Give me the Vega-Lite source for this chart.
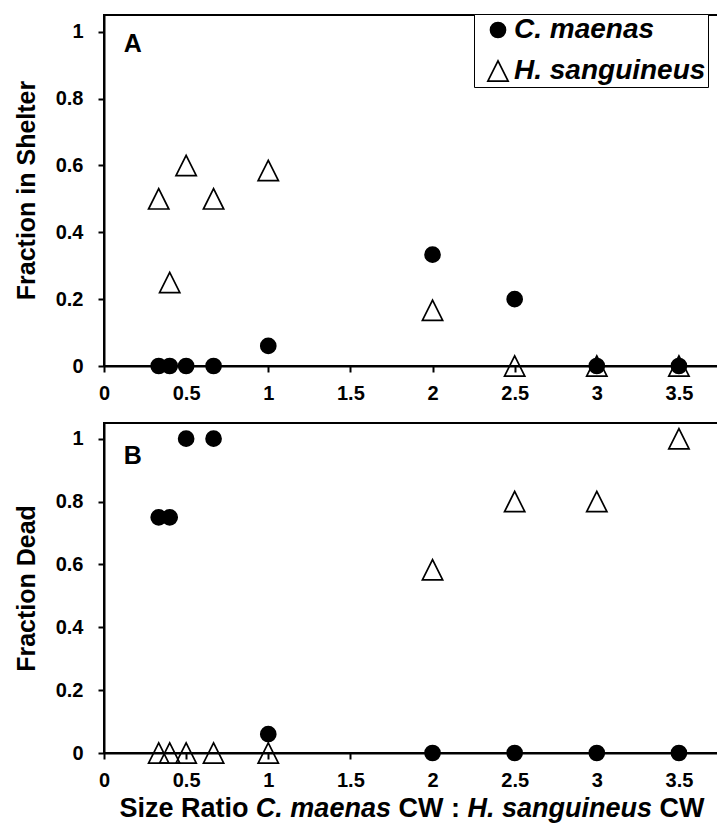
{
  "$schema": "https://vega.github.io/schema/vega-lite/v6.json",
  "padding": {"left": 13, "top": 13, "right": 0, "bottom": 0},
  "background": "white",
  "bounds": "flush",
  "spacing": 57,
  "config": {
    "font": "Liberation Sans",
    "view": {"stroke": "black", "strokeWidth": 2},
    "axis": {
      "grid": false,
      "domainColor": "black", "domainWidth": 2,
      "tickColor": "black", "tickWidth": 2, "tickSize": 6,
      "labelFont": "Liberation Sans", "labelFontSize": 20, "labelFontWeight": "bold", "labelColor": "black",
      "titleFont": "Liberation Sans", "titleFontSize": 25, "titleFontWeight": "bold", "titleColor": "black",
      "labelFlush": false, "labelOverlap": false
    },
    "legend": {"symbolStrokeColor": "black", "symbolStrokeWidth": 1.7},
    "text": {"font": "Liberation Sans", "fontWeight": "bold", "color": "black"}
  },
  "datasets": {
    "shelter": [
      {"ratio": 0.333, "fraction": 0.5, "species": "H. sanguineus"},
      {"ratio": 0.4, "fraction": 0.25, "species": "H. sanguineus"},
      {"ratio": 0.5, "fraction": 0.6, "species": "H. sanguineus"},
      {"ratio": 0.667, "fraction": 0.5, "species": "H. sanguineus"},
      {"ratio": 1, "fraction": 0.585, "species": "H. sanguineus"},
      {"ratio": 2, "fraction": 0.167, "species": "H. sanguineus"},
      {"ratio": 2.5, "fraction": 0, "species": "H. sanguineus"},
      {"ratio": 3, "fraction": 0, "species": "H. sanguineus"},
      {"ratio": 3.5, "fraction": 0, "species": "H. sanguineus"},
      {"ratio": 0.333, "fraction": 0, "species": "C. maenas"},
      {"ratio": 0.4, "fraction": 0, "species": "C. maenas"},
      {"ratio": 0.5, "fraction": 0, "species": "C. maenas"},
      {"ratio": 0.667, "fraction": 0, "species": "C. maenas"},
      {"ratio": 1, "fraction": 0.06, "species": "C. maenas"},
      {"ratio": 2, "fraction": 0.333, "species": "C. maenas"},
      {"ratio": 2.5, "fraction": 0.2, "species": "C. maenas"},
      {"ratio": 3, "fraction": 0, "species": "C. maenas"},
      {"ratio": 3.5, "fraction": 0, "species": "C. maenas"}
    ],
    "dead": [
      {"ratio": 0.333, "fraction": 0, "species": "H. sanguineus"},
      {"ratio": 0.4, "fraction": 0, "species": "H. sanguineus"},
      {"ratio": 0.5, "fraction": 0, "species": "H. sanguineus"},
      {"ratio": 0.667, "fraction": 0, "species": "H. sanguineus"},
      {"ratio": 1, "fraction": 0, "species": "H. sanguineus"},
      {"ratio": 2, "fraction": 0.583, "species": "H. sanguineus"},
      {"ratio": 2.5, "fraction": 0.8, "species": "H. sanguineus"},
      {"ratio": 3, "fraction": 0.8, "species": "H. sanguineus"},
      {"ratio": 3.5, "fraction": 1, "species": "H. sanguineus"},
      {"ratio": 0.333, "fraction": 0.75, "species": "C. maenas"},
      {"ratio": 0.4, "fraction": 0.75, "species": "C. maenas"},
      {"ratio": 0.5, "fraction": 1, "species": "C. maenas"},
      {"ratio": 0.667, "fraction": 1, "species": "C. maenas"},
      {"ratio": 1, "fraction": 0.06, "species": "C. maenas"},
      {"ratio": 2, "fraction": 0, "species": "C. maenas"},
      {"ratio": 2.5, "fraction": 0, "species": "C. maenas"},
      {"ratio": 3, "fraction": 0, "species": "C. maenas"},
      {"ratio": 3.5, "fraction": 0, "species": "C. maenas"}
    ]
  },
  "vconcat": [
    {
      "width": 616,
      "height": 351,
      "layer": [
        {
          "data": {"name": "shelter"},
          "mark": {"type": "point", "filled": true, "size": 225, "stroke": "black", "strokeWidth": 1.7, "opacity": 1},
          "encoding": {
            "x": {"field": "ratio", "type": "quantitative",
              "scale": {"domain": [0, 3.75], "nice": false, "zero": false},
              "axis": {"values": [0, 0.5, 1, 1.5, 2, 2.5, 3, 3.5], "format": "~g", "title": null, "labelPadding": 11}},
            "y": {"field": "fraction", "type": "quantitative",
              "scale": {"domain": [0, 1.05], "nice": false},
              "axis": {"values": [0, 0.2, 0.4, 0.6, 0.8, 1], "format": "~g", "title": "Fraction in Shelter",
                "labelPadding": 15, "titleX": -78, "titleY": 175, "titleAngle": 270, "titleAlign": "center", "titleBaseline": "middle"}},
            "shape": {"field": "species", "type": "nominal",
              "scale": {"domain": ["C. maenas", "H. sanguineus"], "range": ["circle", "M0,-1.353L1.353,1.353L-1.353,1.353Z"]},
              "legend": {"title": null, "orient": "none", "legendX": 370, "legendY": -1,
                "strokeColor": "black", "fillColor": "white", "padding": 2, "symbolOffset": 8,
                "labelFontSize": 28, "labelFontStyle": "italic", "labelFontWeight": "bold", "labelColor": "black", "labelLimit": 500,
                "labelOffset": 2, "rowPadding": 13, "symbolSize": 225, "symbolStrokeWidth": 1.7,
                "labelExpr": "datum.label + '\u2003\u2003'"}},
            "fill": {"field": "species", "type": "nominal",
              "scale": {"domain": ["C. maenas", "H. sanguineus"], "range": ["black", "transparent"]},
              "legend": {"title": null, "orient": "none", "legendX": 370, "legendY": -1,
                "strokeColor": "black", "fillColor": "white", "padding": 2, "symbolOffset": 8,
                "labelFontSize": 28, "labelFontStyle": "italic", "labelFontWeight": "bold", "labelColor": "black", "labelLimit": 500,
                "labelOffset": 2, "rowPadding": 13, "symbolSize": 225, "symbolStrokeWidth": 1.7,
                "labelExpr": "datum.label + '\u2003\u2003'"}},
            "stroke": {"field": "species", "type": "nominal",
              "scale": {"domain": ["C. maenas", "H. sanguineus"], "range": ["black", "black"]},
              "legend": {"title": null, "orient": "none", "legendX": 370, "legendY": -1,
                "strokeColor": "black", "fillColor": "white", "padding": 2, "symbolOffset": 8,
                "labelFontSize": 28, "labelFontStyle": "italic", "labelFontWeight": "bold", "labelColor": "black", "labelLimit": 500,
                "labelOffset": 2, "rowPadding": 13, "symbolSize": 225, "symbolStrokeWidth": 1.7,
                "labelExpr": "datum.label + '\u2003\u2003'"}}
          }
        },
        {
          "data": {"values": [{}]},
          "mark": {"type": "text", "fontSize": 25, "fontWeight": "bold", "align": "left", "baseline": "alphabetic"},
          "encoding": {"x": {"datum": 0.12}, "y": {"datum": 0.94}, "text": {"value": "A"}}
        }
      ]
    },
    {
      "width": 616,
      "height": 330,
      "layer": [
        {
          "data": {"name": "dead"},
          "mark": {"type": "point", "filled": true, "size": 225, "stroke": "black", "strokeWidth": 1.7, "opacity": 1},
          "encoding": {
            "x": {"field": "ratio", "type": "quantitative",
              "scale": {"domain": [0, 3.75], "nice": false, "zero": false},
              "axis": {"values": [0, 0.5, 1, 1.5, 2, 2.5, 3, 3.5], "format": "~g", "title": null, "labelPadding": 11}},
            "y": {"field": "fraction", "type": "quantitative",
              "scale": {"domain": [0, 1.05], "nice": false},
              "axis": {"values": [0, 0.2, 0.4, 0.6, 0.8, 1], "format": "~g", "title": "Fraction Dead",
                "labelPadding": 15, "titleX": -78, "titleY": 165, "titleAngle": 270, "titleAlign": "center", "titleBaseline": "middle"}},
            "shape": {"field": "species", "type": "nominal",
              "scale": {"domain": ["C. maenas", "H. sanguineus"], "range": ["circle", "M0,-1.353L1.353,1.353L-1.353,1.353Z"]},
              "legend": null},
            "fill": {"field": "species", "type": "nominal",
              "scale": {"domain": ["C. maenas", "H. sanguineus"], "range": ["black", "transparent"]},
              "legend": null},
            "stroke": {"field": "species", "type": "nominal",
              "scale": {"domain": ["C. maenas", "H. sanguineus"], "range": ["black", "black"]},
              "legend": null}
          }
        },
        {
          "data": {"values": [{}]},
          "mark": {"type": "text", "fontSize": 25, "fontWeight": "bold", "align": "left", "baseline": "alphabetic"},
          "encoding": {"x": {"datum": 0.12}, "y": {"datum": 0.92}, "text": {"value": "B"}}
        },
        {
          "data": {"values": [{}]},
          "mark": {"type": "text", "fontSize": 27, "fontWeight": "bold", "align": "left", "baseline": "alphabetic"},
          "encoding": {"x": {"datum": 0.0937}, "y": {"datum": -0.205}, "text": {"value": "Size Ratio"}}
        },
        {
          "data": {"values": [{}]},
          "mark": {"type": "text", "fontSize": 27, "fontWeight": "bold", "fontStyle": "italic", "align": "left", "baseline": "alphabetic"},
          "encoding": {"x": {"datum": 0.9245}, "y": {"datum": -0.205}, "text": {"value": "C. maenas"}}
        },
        {
          "data": {"values": [{}]},
          "mark": {"type": "text", "fontSize": 27, "fontWeight": "bold", "align": "left", "baseline": "alphabetic"},
          "encoding": {"x": {"datum": 1.7925}, "y": {"datum": -0.205}, "text": {"value": "CW :"}}
        },
        {
          "data": {"values": [{}]},
          "mark": {"type": "text", "fontSize": 27, "fontWeight": "bold", "fontStyle": "italic", "align": "left", "baseline": "alphabetic"},
          "encoding": {"x": {"datum": 2.2124}, "y": {"datum": -0.205}, "text": {"value": "H. sanguineus"}}
        },
        {
          "data": {"values": [{}]},
          "mark": {"type": "text", "fontSize": 27, "fontWeight": "bold", "align": "left", "baseline": "alphabetic"},
          "encoding": {"x": {"datum": 3.381}, "y": {"datum": -0.205}, "text": {"value": "CW"}}
        }
      ]
    }
  ]
}
